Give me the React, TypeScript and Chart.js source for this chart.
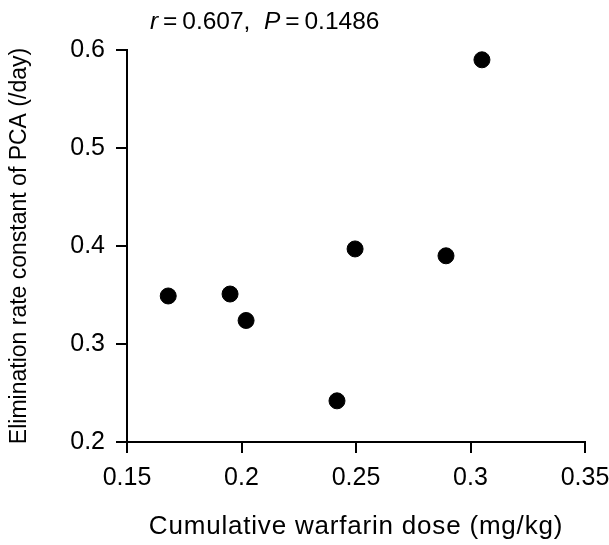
import React, { useEffect, useRef } from "react";
import { Chart, registerables, LinearScale } from "chart.js";
Chart.register(...registerables);

const doseMgKg = [0.168, 0.195, 0.202, 0.2417, 0.2496, 0.2893, 0.305];
const elimRate = [0.349, 0.351, 0.324, 0.242, 0.397, 0.39, 0.59];
const xTicks = [0.15, 0.2, 0.25, 0.3, 0.35];
const yTicks = [0.2, 0.3, 0.4, 0.5, 0.6];
const xTitle = "Cumulative warfarin dose (mg/kg)";
const yTitle = "Elimination rate constant of PCA (/day)";
const statR = "0.607";
const statP = "0.1486";

const FONT = "'Liberation Sans', Arial, Helvetica, sans-serif";

class SpacedLinearScale extends (LinearScale as any) {
  static id = "spacedLinear";
  static defaults = (LinearScale as any).defaults;
  drawTitle() {
    const ctx = this.ctx;
    ctx.save();
    ctx.letterSpacing = this.isHorizontal() ? "0.8px" : "0px";
    super.drawTitle();
    ctx.restore();
  }
}
Chart.register(SpacedLinearScale as any);

const statPlugin = {
  id: "statText",
  afterDraw(chart: any) {
    const ctx = chart.ctx;
    ctx.save();
    ctx.fillStyle = "#000";
    ctx.textBaseline = "alphabetic";
    ctx.textAlign = "left";
    let x = 150;
    const y = 29;
    const parts: [string, boolean][] = [
      ["r", true],
      ["\u2009=\u2009" + statR + ",  ", false],
      ["P", true],
      ["\u2009=\u2009" + statP, false],
    ];
    for (const [t, it] of parts) {
      ctx.font = (it ? "italic " : "") + "24.5px " + FONT;
      ctx.fillText(t, x, y);
      x += ctx.measureText(t).width;
    }
    ctx.restore();
  },
};

export default function App() {
  const ref = useRef<HTMLCanvasElement | null>(null);
  useEffect(() => {
    document.body.style.margin = "0";
    const points = doseMgKg.map((x, i) => ({ x, y: elimRate[i] }));
    const chart = new Chart(ref.current as HTMLCanvasElement, {
      type: "scatter",
      data: {
        datasets: [
          {
            data: points,
            backgroundColor: "#000",
            borderColor: "#000",
            pointRadius: 8,
            pointHoverRadius: 8,
          },
        ],
      },
      options: {
        animation: false,
        responsive: false,
        events: [],
        layout: { padding: { top: 50, right: 24, left: 0, bottom: 0 } },
        plugins: { legend: { display: false }, tooltip: { enabled: false } },
        scales: {
          x: {
            type: "spacedLinear",
            position: "bottom",
            min: 0.15,
            max: 0.35,
            afterBuildTicks: (s: any) => {
              s.ticks = xTicks.map((v) => ({ value: v }));
            },
            afterFit: (s: any) => {
              s.height = 103;
              s.paddingLeft = 0;
              s.paddingRight = 0;
            },
            ticks: {
              color: "#000",
              font: { family: FONT, size: 25 },
              padding: 10,
              maxRotation: 0,
              callback: (v: any) => String(v),
            },
            grid: { drawOnChartArea: false, drawTicks: true, tickLength: 11, color: "#000", lineWidth: 2 },
            border: { display: true, color: "#000", width: 2 },
            title: {
              display: true,
              text: xTitle,
              color: "#000",
              font: { family: FONT, size: 26 },
              padding: { top: 0, bottom: 3 },
            },
          },
          y: {
            type: "spacedLinear",
            position: "left",
            min: 0.2,
            max: 0.6,
            afterBuildTicks: (s: any) => {
              s.ticks = yTicks.map((v) => ({ value: v }));
            },
            afterFit: (s: any) => {
              s.width = 127;
              s.paddingTop = 0;
              s.paddingBottom = 0;
            },
            ticks: {
              color: "#000",
              font: { family: FONT, size: 25 },
              padding: 11,
              callback: (v: any) => String(v),
            },
            grid: { drawOnChartArea: false, drawTicks: true, tickLength: 11, color: "#000", lineWidth: 2 },
            border: { display: true, color: "#000", width: 2 },
            title: {
              display: true,
              text: yTitle,
              color: "#000",
              font: { family: FONT, size: 23 },
              padding: { top: 6, bottom: 0 },
            },
          },
        },
      },
      plugins: [statPlugin],
    } as any);
    return () => chart.destroy();
  }, []);
  return (
    <div style={{ width: 609, height: 545 }}>
      <canvas ref={ref} width={609} height={545} style={{ display: "block" }} />
    </div>
  );
}
